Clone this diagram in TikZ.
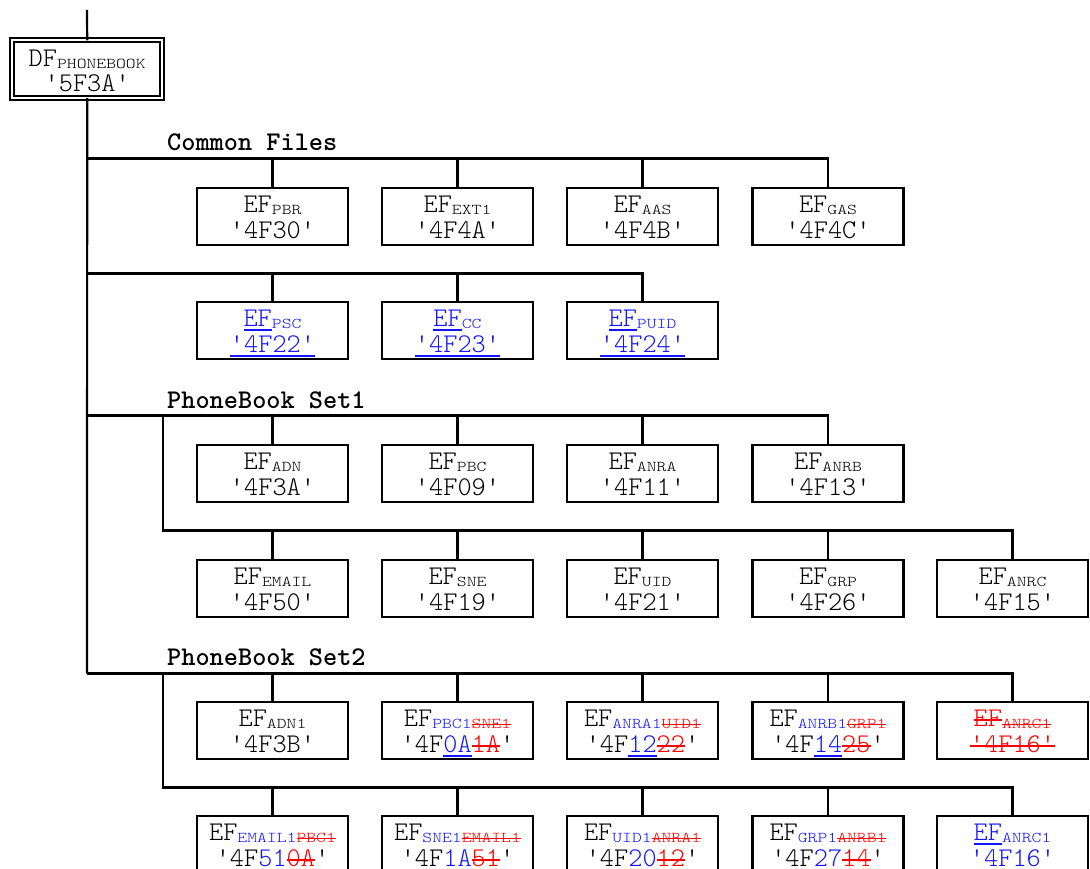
\documentclass[tikz,border=0pt]{standalone}
\usepackage{fontspec}
\setmonofont{lmmonolt10-regular}[Extension=.otf, BoldFont=lmmonolt10-bold]
\newfontfamily\subfnt{lmmonolt10-regular}[Extension=.otf, FakeStretch=1.25]
\definecolor{myblue}{RGB}{20,20,255}
\definecolor{myred}{RGB}{255,0,0}
\newcommand\myul[1]{\setbox0=\hbox{#1}\rlap{\rule[-4pt]{\wd0}{1.7pt}}\box0}
\newcommand\myst[1]{\setbox0=\hbox{#1}\rlap{\rule[0.5ex]{\wd0}{1.6pt}}\box0}
\newcommand\ins[1]{{\color{myblue}\myul{#1}}}
\newcommand\del[1]{{\color{myred}\myst{#1}}}
\newcommand\bl[1]{{\color{myblue}#1}}
\newcommand\sub[1]{\raisebox{-2pt}{\subfnt\fontsize{15}{16}\selectfont #1}}
\newcommand\bt[2]{\rule{0pt}{24.5pt}#1\\#2\rule[-6.5pt]{0pt}{6.5pt}}
\tikzset{
  box/.style={draw, line width=2.2pt, minimum width=151pt, minimum height=57pt,
    inner sep=0pt, outer sep=0pt, align=center,
    font=\ttfamily\fontsize{27}{26}\selectfont},
  dfbox/.style={draw, double, line width=2pt, double distance=2.3pt,
    minimum width=150pt, minimum height=57.7pt, inner sep=0pt, outer sep=0pt,
    align=center, font=\ttfamily\fontsize{27}{26}\selectfont},
  hdr/.style={anchor=base west, inner sep=0pt,
    font=\ttfamily\bfseries\fontsize{27}{26}\selectfont},
  conn/.style={line width=2.2pt, line join=miter}
}
\begin{document}
\begin{tikzpicture}[x=1pt,y=-1pt]
\useasboundingbox (0,0) rectangle (1090,869);
\clip (0,0) rectangle (1090,869);
% DF
\node[dfbox] (df) at (87.2,69.2) {\rule{0pt}{25.7pt}DF\sub{PHONEBOOK}\\[-1pt]'5F3A'\rule[-7pt]{0pt}{7pt}};
\coordinate (top) at (87,10);
\draw[conn] (top) -- (df.north);
% headers
\node[hdr] (h1) at (167,151) {Common Files};
\node[hdr] (h2) at (167,408) {PhoneBook Set1};
\node[hdr] (h3) at (167,665) {PhoneBook Set2};
% row 1
\node[box] (a1) at (272.5,216.5) {\bt{EF\sub{PBR}}{'4F30'}};
\node[box] (a2) at (457.5,216.5) {\bt{EF\sub{EXT1}}{'4F4A'}};
\node[box] (a3) at (642.5,216.5) {\bt{EF\sub{AAS}}{'4F4B'}};
\node[box] (a4) at (828,216.5) {\bt{EF\sub{GAS}}{'4F4C'}};
% row 2
\node[box] (b1) at (272.5,330.5) {\bt{\bl{\myul{EF}\sub{PSC}}}{\bl{\myul{'4F22'}}}};
\node[box] (b2) at (457.5,330.5) {\bt{\bl{\myul{EF}\sub{CC}}}{\bl{\myul{'4F23'}}}};
\node[box] (b3) at (642.5,330.5) {\bt{\bl{\myul{EF}\sub{PUID}}}{\bl{\myul{'4F24'}}}};
% row 3
\node[box] (c1) at (272.5,473.5) {\bt{EF\sub{ADN}}{'4F3A'}};
\node[box] (c2) at (457.5,473.5) {\bt{EF\sub{PBC}}{'4F09'}};
\node[box] (c3) at (642.5,473.5) {\bt{EF\sub{ANRA}}{'4F11'}};
\node[box] (c4) at (828,473.5) {\bt{EF\sub{ANRB}}{'4F13'}};
% row 4
\node[box] (d1) at (272.5,588.5) {\bt{EF\sub{EMAIL}}{'4F50'}};
\node[box] (d2) at (457.5,588.5) {\bt{EF\sub{SNE}}{'4F19'}};
\node[box] (d3) at (642.5,588.5) {\bt{EF\sub{UID}}{'4F21'}};
\node[box] (d4) at (828,588.5) {\bt{EF\sub{GRP}}{'4F26'}};
\node[box] (d5) at (1012.5,588.5) {\bt{EF\sub{ANRC}}{'4F15'}};
% row 5
\node[box] (e1) at (272.5,730.5) {\bt{EF\sub{ADN1}}{'4F3B'}};
\node[box] (e2) at (457.5,730.5) {\bt{EF\sub{\bl{PBC1}\del{SNE1}}}{'4F\ins{0A}\del{1A}'}};
\node[box] (e3) at (642.5,730.5) {\bt{EF\sub{\bl{ANRA1}\del{UID1}}}{'4F\ins{12}\del{22}'}};
\node[box] (e4) at (828,730.5) {\bt{EF\sub{\bl{ANRB1}\del{GRP1}}}{'4F\ins{14}\del{25}'}};
\node[box] (e5) at (1012.5,730.5) {\bt{\del{EF}\sub{\del{ANRC1}}}{\del{'4F16'}}};
% row 6
\node[box] (f1) at (272.5,844.5) {\bt{EF\sub{\bl{EMAIL1}\del{PBC1}}}{'4F\ins{51}\del{0A}'}};
\node[box] (f2) at (457.5,844.5) {\bt{EF\sub{\bl{SNE1}\del{EMAIL1}}}{'4F\ins{1A}\del{51}'}};
\node[box] (f3) at (642.5,844.5) {\bt{EF\sub{\bl{UID1}\del{ANRA1}}}{'4F\ins{20}\del{12}'}};
\node[box] (f4) at (828,844.5) {\bt{EF\sub{\bl{GRP1}\del{ANRB1}}}{'4F\ins{27}\del{14}'}};
\node[box] (f5) at (1012.5,844.5) {\bt{\bl{\myul{EF}\sub{ANRC1}}}{\bl{\myul{'4F16'}}}};
% junctions
\coordinate (j1) at (87,158.5);
\coordinate (j2) at (87,273.5);
\coordinate (j3) at (87,415.5);
\coordinate (j5) at (87,673.5);
\coordinate (k1) at (163,415.5);
\coordinate (k2) at (163,530.5);
\coordinate (k3) at (163,673.5);
\coordinate (k4) at (163,787.5);
% trunk
\draw[conn] (df.south) -- (j5);
% common files
\draw[conn] (j1) -| (a4);
\foreach \n in {a1,a2,a3} \draw[conn] (\n) -- (\n |- j1);
\draw[conn] (j2) -| (b3);
\foreach \n in {b1,b2} \draw[conn] (\n) -- (\n |- j2);
% set 1
\draw[conn] (j3) -| (c4);
\foreach \n in {c1,c2,c3} \draw[conn] (\n) -- (\n |- j3);
\draw[conn] (k1) -- (k2) -| (d5);
\foreach \n in {d1,d2,d3,d4} \draw[conn] (\n) -- (\n |- k2);
% set 2
\draw[conn] (j5) -| (e5);
\foreach \n in {e1,e2,e3,e4} \draw[conn] (\n) -- (\n |- j5);
\draw[conn] (k3) -- (k4) -| (f5);
\foreach \n in {f1,f2,f3,f4} \draw[conn] (\n) -- (\n |- k4);
\end{tikzpicture}
\end{document}
